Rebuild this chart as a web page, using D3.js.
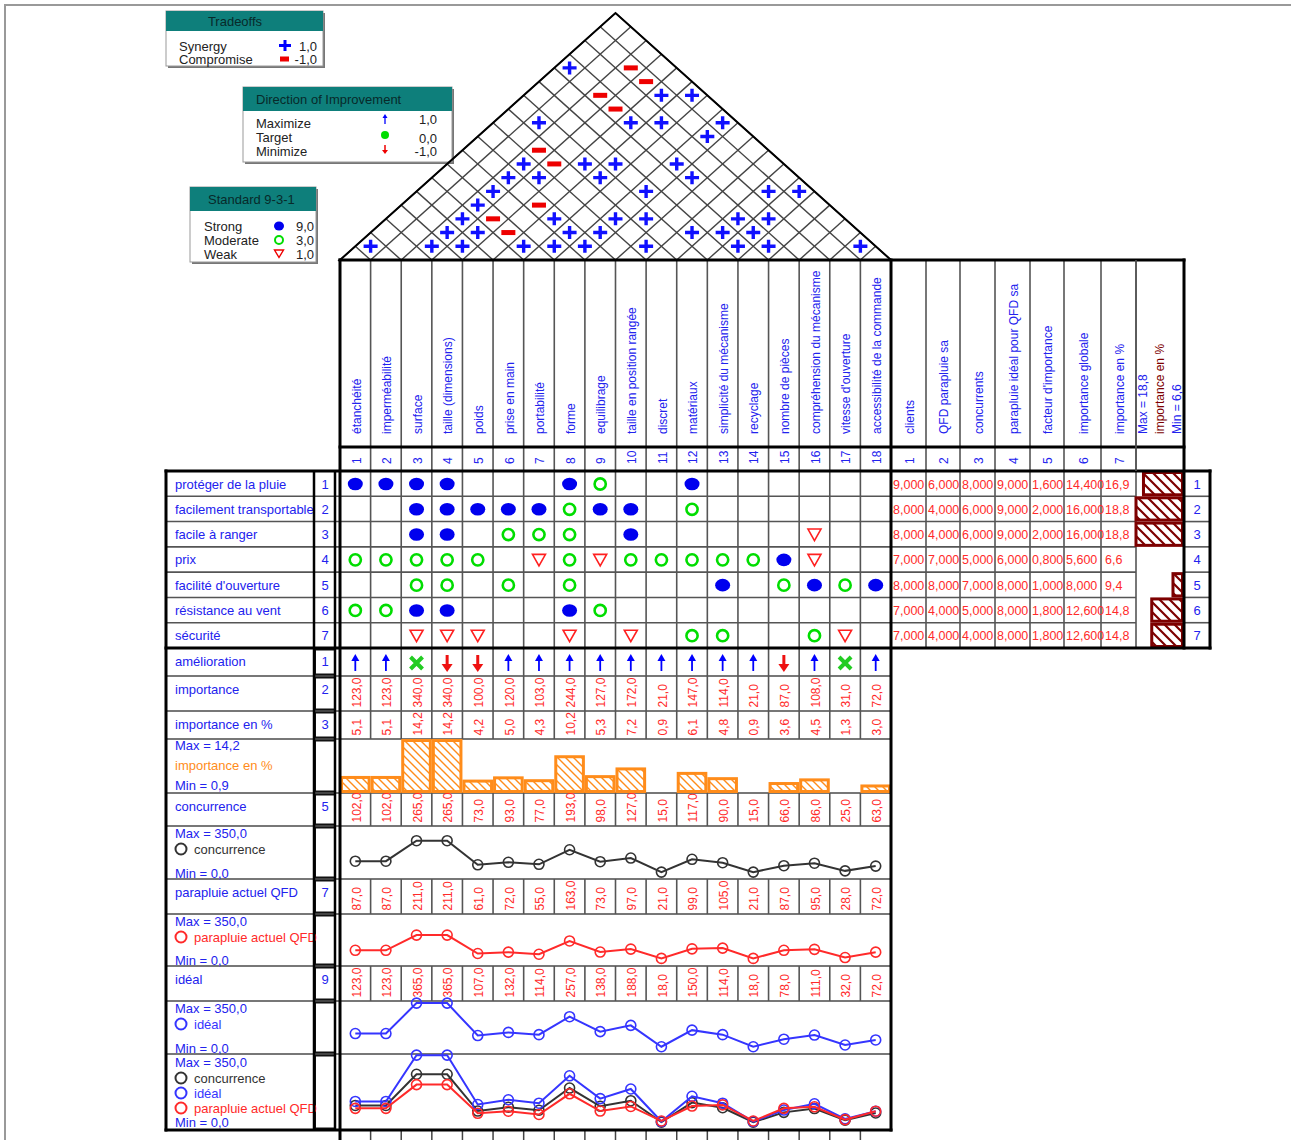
<!DOCTYPE html>
<html>
<head>
<meta charset="utf-8">
<script src="https://cdn.jsdelivr.net/npm/d3@7"></script>
<style>
body { margin:0; background:#fff; }
svg text { font-family:"Liberation Sans", Arial, sans-serif; }
</style>
</head>
<body>
<svg id="chart"></svg>
<script>
var techReqs = ["étanchéité","imperméabilité","surface","taille (dimensions)","poids","prise en main",
    "portabilité","forme","equilibrage","taille en position rangée","discret","matériaux",
    "simplicité du mécanisme","recyclage","nombre de pièces","compréhension du mécanisme",
    "vitesse d'ouverture","accessibilité de la commande"];
var custReqs = ["protéger de la pluie","facilement transportable","facile à ranger","prix",
    "facilité d'ouverture","résistance au vent","sécurité"];
var rightHeaders = ["clients","QFD parapluie sa","concurrents","parapluie idéal pour QFD sa",
    "facteur d'importance","importance globale","importance en %"];

var clients = [9,8,8,7,8,7,7];
var qfdSa = [6,4,4,7,8,4,4];
var concurrents = [8,6,6,5,7,5,4];
var idealQfd = [9,9,9,6,8,8,8];
var facteur = [1.6,2,2,0.8,1,1.8,1.8];
var importanceGlobale = [14.4,16,16,5.6,8,12.6,12.6];
var custPct = [16.9,18.8,18.8,6.6,9.4,14.8,14.8];

// 9 strong, 3 moderate, 1 weak
var relations = [
    [9,9,9,9,0,0,0,9,3,0,0,9,0,0,0,0,0,0],
    [0,0,9,9,9,9,9,3,9,9,0,3,0,0,0,0,0,0],
    [0,0,9,9,0,3,3,3,0,9,0,0,0,0,0,1,0,0],
    [3,3,3,3,3,0,1,3,1,3,3,3,3,3,9,1,0,0],
    [0,0,3,3,0,3,0,3,0,0,0,0,9,0,3,9,3,9],
    [3,3,9,9,0,0,0,9,3,0,0,0,0,0,0,0,0,0],
    [0,0,1,1,1,0,0,1,0,1,0,3,3,0,0,3,1,0]
];
var synergy = [[0,14],[4,16],[5,17],[1,11],[4,14],[5,15],[7,17],[7,16],[2,9],[4,11],[5,12],[7,14],
    [2,8],[3,9],[5,11],[8,14],[2,7],[7,12],[11,16],[12,17],[2,6],[2,5],[5,8],[7,10],[8,11],
    [11,14],[12,15],[2,4],[3,5],[6,8],[7,9],[10,12],[11,13],[12,14],[0,1],[2,3],[3,4],[5,6],
    [6,7],[7,8],[9,10],[12,13],[13,14],[16,17]];
var compromise = [[2,16],[3,16],[2,14],[3,14],[2,10],[3,10],[4,8],[3,6],[4,6]];

var improvement = [1,1,0,-1,-1,1,1,1,1,1,1,1,1,1,-1,1,0,1];
var importance = [123,123,340,340,100,120,103,244,127,172,21,147,114,21,87,108,31,72];
var importancePct = [5.1,5.1,14.2,14.2,4.2,5.0,4.3,10.2,5.3,7.2,0.9,6.1,4.8,0.9,3.6,4.5,1.3,3.0];
var concurrence = [102,102,265,265,73,93,77,193,98,127,15,117,90,15,66,86,25,63];
var parapluieQFD = [87,87,211,211,61,72,55,163,73,97,21,99,105,21,87,95,28,72];
var ideal = [123,123,365,365,107,132,114,257,138,188,18,150,114,18,78,111,32,72];

var fr = function(f){ return function(v){ return d3.format(f)(v).replace(".", ","); }; };
var fr1 = fr(".1f"), fr3 = fr(".3f");

var BLUE = "#2222ee", RED = "#ff2a2a", ORANGE = "#ff8c1a", DARKRED = "#7d0000", TEAL = "#0e7f7b";

var svg = d3.select("#chart").attr("width", 1291).attr("height", 1140);
var defs = svg.append("defs");

var hatch = function(id, color, size, width)
{
    var p = defs.append("pattern").attr("id", id).attr("patternUnits", "userSpaceOnUse")
        .attr("width", size).attr("height", size);
    p.append("rect").attr("width", size).attr("height", size).attr("fill", "#fff");
    p.append("path")
        .attr("d", "M0,0L"+size+","+size+"M"+(-size/2)+","+(size/2)+"L"+(size/2)+","+(size*1.5)
            +"M"+(size/2)+","+(-size/2)+"L"+(size*1.5)+","+(size/2))
        .attr("stroke", color).attr("stroke-width", width);
};
hatch("hOrange", ORANGE, 8, 1.4);
hatch("hRed", DARKRED, 10, 2.2);

// window frame
svg.append("path").attr("d", "M5,1140V5H1291").attr("fill", "none").attr("stroke", "#999").attr("stroke-width", 2);

var colX = d3.scaleBand().domain(d3.range(techReqs.length)).range([340, 891]);
var colW = colX.bandwidth();
var cx = function(i){ return colX(i) + colW/2; };
var rowY = d3.scaleBand().domain(d3.range(custReqs.length)).range([471, 648]);
var rightEdges = [891, 926, 960, 995, 1030, 1064, 1101, 1136, 1184];

/* ---------- legends ---------- */
var legendBox = function(x, y, w, h, hh, title, tx, anchor)
{
    var g = svg.append("g");
    g.append("rect").attr("x", x+2).attr("y", y+2).attr("width", w).attr("height", h).attr("fill", "#777");
    g.append("rect").attr("x", x).attr("y", y).attr("width", w).attr("height", h)
        .attr("fill", "#fff").attr("stroke", "#999");
    g.append("rect").attr("x", x).attr("y", y).attr("width", w).attr("height", hh).attr("fill", TEAL);
    g.append("text").text(title).attr("x", tx).attr("y", y+hh/2+4.5)
        .attr("text-anchor", anchor).attr("font-size", 13).attr("fill", "#082a2a");
    return g;
};
var legText = function(g, t, x, y, anchor, color)
{
    g.append("text").text(t).attr("x", x).attr("y", y).attr("text-anchor", anchor || "start")
        .attr("font-size", 13).attr("fill", color || "#222");
};

var lg1 = legendBox(166, 11, 157, 55, 20, "Tradeoffs", 235, "middle");
legText(lg1, "Synergy", 179, 51);
legText(lg1, "Compromise", 179, 64);
lg1.append("path").attr("d", "M279,45.5H291M285,40V51").attr("stroke", "#0000ff").attr("stroke-width", 3);
lg1.append("rect").attr("x", 280).attr("y", 56.5).attr("width", 9).attr("height", 5).attr("fill", "#ee0000");
legText(lg1, "1,0", 317, 51, "end");
legText(lg1, "-1,0", 317, 64, "end");

var lg2 = legendBox(243, 87, 209, 75, 24, "Direction of Improvement", 256, "start");
legText(lg2, "Maximize", 256, 128);
legText(lg2, "Target", 256, 142);
legText(lg2, "Minimize", 256, 156);
lg2.append("path").attr("d", "M385,124V117").attr("stroke", "#0000ff").attr("stroke-width", 1.3);
lg2.append("path").attr("d", "M382.5,118L385,114L387.5,118Z").attr("fill", "#0000ff");
lg2.append("circle").attr("cx", 385).attr("cy", 135).attr("r", 4).attr("fill", "#00dd00");
lg2.append("path").attr("d", "M385,145V151").attr("stroke", "#ee0000").attr("stroke-width", 1.5);
lg2.append("path").attr("d", "M382,150L385,154L388,150Z").attr("fill", "#ee0000");
legText(lg2, "1,0", 437, 124, "end");
legText(lg2, "0,0", 437, 143, "end");
legText(lg2, "-1,0", 437, 156, "end");

var lg3 = legendBox(190, 187, 126, 75, 24, "Standard 9-3-1", 208, "start");
legText(lg3, "Strong", 204, 231);
legText(lg3, "Moderate", 204, 245);
legText(lg3, "Weak", 204, 259);
lg3.append("ellipse").attr("cx", 279).attr("cy", 226).attr("rx", 5).attr("ry", 4.5).attr("fill", "#0000ee");
lg3.append("circle").attr("cx", 279).attr("cy", 240).attr("r", 4).attr("fill", "none")
    .attr("stroke", "#00dd00").attr("stroke-width", 2);
lg3.append("path").attr("d", "M274.5,250L283.5,250L279,257.5Z").attr("fill", "#fff")
    .attr("stroke", "#ee0000").attr("stroke-width", 1.4);
legText(lg3, "9,0", 314, 231, "end");
legText(lg3, "3,0", 314, 245, "end");
legText(lg3, "1,0", 314, 259, "end");

/* ---------- roof ---------- */
var roofBase = 260, roofTop = 13;
var n = techReqs.length;
var slope = (roofBase - roofTop) / (n/2 * colW);
var roof = svg.append("g");
d3.range(n+1).forEach(function(b)
{
    var X = 340 + b*colW;
    var tR = (n-b)*colW/2, tL = b*colW/2;
    roof.append("line").attr("x1", X).attr("y1", roofBase).attr("x2", X+tR).attr("y2", roofBase - tR*slope)
        .attr("stroke", "#444").attr("stroke-width", 1.4);
    roof.append("line").attr("x1", X).attr("y1", roofBase).attr("x2", X-tL).attr("y2", roofBase - tL*slope)
        .attr("stroke", "#444").attr("stroke-width", 1.4);
});
roof.append("path").attr("d", "M340,"+roofBase+"L"+(340+n/2*colW)+","+roofTop+"L891,"+roofBase+"Z")
    .attr("fill", "none").attr("stroke", "#000").attr("stroke-width", 2);
var roofPos = function(p){ return [340 + (p[0]+p[1]+1)*colW/2, roofBase - (p[1]-p[0])*colW/2*slope]; };
roof.selectAll(".syn").data(synergy).enter().append("path")
    .attr("d", function(p){ var c = roofPos(p); return "M"+(c[0]-7)+","+c[1]+"H"+(c[0]+7)+"M"+c[0]+","+(c[1]-6.5)+"V"+(c[1]+6.5); })
    .attr("stroke", "#1010ff").attr("stroke-width", 3.4);
roof.selectAll(".comp").data(compromise).enter().append("rect")
    .attr("x", function(p){ return roofPos(p)[0]-7; })
    .attr("y", function(p){ return roofPos(p)[1]-2.5; })
    .attr("width", 14).attr("height", 5).attr("fill", "#ee0000");

/* ---------- grid lines ---------- */
var grid = svg.append("g").attr("stroke", "#555").attr("stroke-width", 1.6);
d3.range(1, n).forEach(function(i)
{
    grid.append("line").attr("x1", colX(i)).attr("x2", colX(i)).attr("y1", 260).attr("y2", 648);
});
rightEdges.slice(1, -1).forEach(function(e)
{
    grid.append("line").attr("x1", e).attr("x2", e).attr("y1", 260).attr("y2", 648);
});
d3.range(1, custReqs.length).forEach(function(r)
{
    grid.append("line").attr("x1", 166).attr("x2", 1136).attr("y1", rowY(r)).attr("y2", rowY(r));
    grid.append("line").attr("x1", 1184).attr("x2", 1210).attr("y1", rowY(r)).attr("y2", rowY(r));
});

/* ---------- headers ---------- */
var rotText = function(t, x, y, color, size)
{
    svg.append("text").text(t).attr("transform", "translate("+x+","+y+") rotate(-90)")
        .attr("dy", "0.35em").attr("font-size", size).attr("fill", color);
};
techReqs.forEach(function(t, i){ rotText(t, cx(i)+1, 434, BLUE, 12); });
techReqs.forEach(function(t, i){ rotText(String(i+1), cx(i)+1, 464, BLUE, 12); });
rightHeaders.forEach(function(t, i)
{
    var c = (rightEdges[i] + rightEdges[i+1])/2;
    rotText(t, c+1, 434, BLUE, 12);
    rotText(String(i+1), c+1, 464, BLUE, 12);
});
rotText("Max = 18,8", 1143, 434, BLUE, 12);
rotText("importance en %", 1160, 434, DARKRED, 12);
rotText("Min = 6,6", 1177, 434, BLUE, 12);

/* ---------- relationship matrix ---------- */
var labelText = function(t, y, color)
{
    svg.append("text").text(t).attr("x", 175).attr("y", y).attr("font-size", 13)
        .attr("fill", color || BLUE);
};
custReqs.forEach(function(t, r)
{
    var yc = rowY(r) + 13;
    labelText(t, yc+4.5);
    svg.append("text").text(r+1).attr("x", 325).attr("y", yc+4.5).attr("text-anchor", "middle")
        .attr("font-size", 13).attr("fill", BLUE);
    svg.append("text").text(r+1).attr("x", 1197).attr("y", yc+4.5).attr("text-anchor", "middle")
        .attr("font-size", 13).attr("fill", BLUE);
});

var cells = [];
relations.forEach(function(row, r){ row.forEach(function(v, c){ if(v) cells.push({r:r, c:c, v:v}); }); });
var sym = svg.append("g").selectAll("g").data(cells).enter().append("g")
    .attr("transform", function(d){ return "translate("+cx(d.c)+","+(rowY(d.r)+13)+")"; });
sym.filter(function(d){ return d.v == 9; }).append("ellipse").attr("rx", 7.5).attr("ry", 6.3).attr("fill", "#0000ee");
sym.filter(function(d){ return d.v == 3; }).append("circle").attr("r", 5.6).attr("fill", "none")
    .attr("stroke", "#00dd00").attr("stroke-width", 2.6);
sym.filter(function(d){ return d.v == 1; }).append("path").attr("d", "M-6.5,-5.5L6.5,-5.5L0,6Z")
    .attr("fill", "#fff").attr("stroke", "#ff2020").attr("stroke-width", 1.6);

/* ---------- right table ---------- */
var rightCols = [clients, qfdSa, concurrents, idealQfd, facteur, importanceGlobale];
rightCols.forEach(function(col, k)
{
    col.forEach(function(v, r)
    {
        svg.append("text").text(fr3(v)).attr("x", rightEdges[k]+2).attr("y", rowY(r)+17.5)
            .attr("font-size", 12.5).attr("fill", RED);
    });
});
custPct.forEach(function(v, r)
{
    svg.append("text").text(fr1(v)).attr("x", rightEdges[6]+4).attr("y", rowY(r)+17.5)
        .attr("font-size", 12.5).attr("fill", RED);
});
var pctW = d3.scaleLinear().domain([d3.min(custPct), d3.max(custPct)]).range([0, 1184-1136]);
var pctBars = custPct.map(function(v, r){ return {v:v, r:r}; }).filter(function(d){ return pctW(d.v) > 0.5; });
svg.append("g").selectAll("rect").data(pctBars).enter().append("rect")
    .attr("x", function(d){ return 1184 - pctW(d.v); })
    .attr("y", function(d){ return rowY(d.r)+1.5; })
    .attr("width", function(d){ return pctW(d.v) - 1.5; })
    .attr("height", rowY.bandwidth()-3)
    .attr("fill", "url(#hRed)").attr("stroke", DARKRED).attr("stroke-width", 3);

/* ---------- lower section ---------- */
var lowerRows = [
    {key:"amel", top:648, bot:676, label:"amélioration", num:"1"},
    {key:"imp", top:676, bot:711, label:"importance", num:"2", values:importance},
    {key:"pct", top:711, bot:739, label:"importance en %", num:"3", values:importancePct},
    {key:"bar", top:739, bot:793},
    {key:"conc", top:793, bot:826, label:"concurrence", num:"5", values:concurrence},
    {key:"concLine", top:826, bot:879},
    {key:"qfd", top:879, bot:914, label:"parapluie actuel QFD", num:"7", values:parapluieQFD},
    {key:"qfdLine", top:914, bot:966},
    {key:"ideal", top:966, bot:1001, label:"idéal", num:"9", values:ideal},
    {key:"idealLine", top:1001, bot:1054},
    {key:"all", top:1054, bot:1130}
];
lowerRows.forEach(function(row)
{
    svg.append("line").attr("x1", 166).attr("x2", 891).attr("y1", row.bot).attr("y2", row.bot)
        .attr("stroke", "#777").attr("stroke-width", 2);
    svg.append("rect").attr("x", 315).attr("y", row.top+1.5).attr("width", 20).attr("height", row.bot-row.top-3)
        .attr("fill", "none").attr("stroke", "#111").attr("stroke-width", 2);
    if(row.label)
    {
        labelText(row.label, row.top+17.5);
        svg.append("text").text(row.num).attr("x", 325).attr("y", row.top+17.5).attr("text-anchor", "middle")
            .attr("font-size", 13).attr("fill", BLUE);
        d3.range(1, n).forEach(function(i)
        {
            svg.append("line").attr("x1", colX(i)).attr("x2", colX(i)).attr("y1", row.top).attr("y2", row.bot)
                .attr("stroke", "#555").attr("stroke-width", 1.6);
        });
    }
    if(row.values)
    {
        row.values.forEach(function(v, i){ rotText(fr1(v), cx(i)+1, row.bot-3.5, RED, 12); });
    }
});
d3.range(1, n).forEach(function(i)
{
    svg.append("line").attr("x1", colX(i)).attr("x2", colX(i)).attr("y1", 1130).attr("y2", 1140)
        .attr("stroke", "#444").attr("stroke-width", 1.5);
});

// improvement arrows
var amel = svg.append("g").selectAll("g").data(improvement).enter().append("g")
    .attr("transform", function(d, i){ return "translate("+cx(i)+",663)"; });
amel.filter(function(d){ return d == 1; }).each(function()
{
    var g = d3.select(this);
    g.append("path").attr("d", "M0,8V-4").attr("stroke", "#0000ff").attr("stroke-width", 1.8);
    g.append("path").attr("d", "M-4,-2L0,-9L4,-2Z").attr("fill", "#0000ff");
});
amel.filter(function(d){ return d == -1; }).each(function()
{
    var g = d3.select(this);
    g.append("path").attr("d", "M0,-8V3").attr("stroke", "#ee1111").attr("stroke-width", 3);
    g.append("path").attr("d", "M-5.5,1L0,9L5.5,1Z").attr("fill", "#ee1111");
});
amel.filter(function(d){ return d == 0; }).append("path").attr("d", "M-6,-6L6,6M6,-6L-6,6")
    .attr("stroke", "#22cc22").attr("stroke-width", 4);

// importance % bars
var barY = d3.scaleLinear().domain([d3.min(importancePct), d3.max(importancePct)]).range([793, 739]);
svg.append("g").selectAll("rect").data(importancePct).enter().append("rect")
    .attr("x", function(v, i){ return colX(i)+1.5; })
    .attr("y", function(v){ return barY(v)+1.5; })
    .attr("width", colW-3)
    .attr("height", function(v){ return Math.max(0, 793 - barY(v) - 3); })
    .attr("fill", "url(#hOrange)").attr("stroke", ORANGE).attr("stroke-width", 3);
labelText("Max = 14,2", 750, BLUE);
labelText("importance en %", 770, ORANGE);
labelText("Min = 0,9", 790, BLUE);

// line charts
var drawLine = function(values, top, bot, color)
{
    var yS = d3.scaleLinear().domain([0, 350]).range([bot-5, top+4]);
    var line = d3.line().x(function(v, i){ return cx(i); }).y(function(v){ return yS(v); });
    var g = svg.append("g");
    g.append("path").datum(values).attr("d", line).attr("fill", "none")
        .attr("stroke", color).attr("stroke-width", 2);
    g.selectAll("circle").data(values).enter().append("circle")
        .attr("cx", function(v, i){ return cx(i); })
        .attr("cy", function(v){ return yS(v); })
        .attr("r", 5).attr("fill", "none").attr("stroke", color).attr("stroke-width", 1.6);
};
var legendEntry = function(t, yc, color)
{
    svg.append("circle").attr("cx", 181).attr("cy", yc).attr("r", 5.5).attr("fill", "none")
        .attr("stroke", color).attr("stroke-width", 2);
    svg.append("text").text(t).attr("x", 194).attr("y", yc+4.5).attr("font-size", 13).attr("fill", color);
};
var GREY = "#333", LRED = "#ff2a2a", LBLUE = "#3535ff";

drawLine(concurrence, 826, 879, GREY);
labelText("Max = 350,0", 838); legendEntry("concurrence", 849, GREY); labelText("Min = 0,0", 878);

drawLine(parapluieQFD, 914, 966, LRED);
labelText("Max = 350,0", 926); legendEntry("parapluie actuel QFD", 937, LRED); labelText("Min = 0,0", 965);

drawLine(ideal, 1001, 1054, LBLUE);
labelText("Max = 350,0", 1013); legendEntry("idéal", 1024, LBLUE); labelText("Min = 0,0", 1053);

drawLine(concurrence, 1054, 1130, GREY);
drawLine(ideal, 1054, 1130, LBLUE);
drawLine(parapluieQFD, 1054, 1130, LRED);
labelText("Max = 350,0", 1067);
legendEntry("concurrence", 1078, GREY);
legendEntry("idéal", 1093, LBLUE);
legendEntry("parapluie actuel QFD", 1108, LRED);
labelText("Min = 0,0", 1127);

/* ---------- heavy borders ---------- */
var thick = [
    [340,260,1184,260],[340,260,340,1140],[891,260,891,1130],[1184,260,1184,648],
    [340,447,1184,447],[166,471,1210,471],[166,648,1210,648],[166,471,166,1130],
    [166,1130,891,1130],[1210,471,1210,648]
];
thick.forEach(function(l)
{
    svg.append("line").attr("x1", l[0]).attr("y1", l[1]).attr("x2", l[2]).attr("y2", l[3])
        .attr("stroke", "#000").attr("stroke-width", 3).attr("stroke-linecap", "square");
});
[[314,471,314,1130],[335,471,335,1130]].forEach(function(l)
{
    svg.append("line").attr("x1", l[0]).attr("y1", l[1]).attr("x2", l[2]).attr("y2", l[3])
        .attr("stroke", "#000").attr("stroke-width", 2.5);
});
svg.append("line").attr("x1", 1136).attr("x2", 1136).attr("y1", 260).attr("y2", 471)
    .attr("stroke", "#555").attr("stroke-width", 1.6);
</script>
</body>
</html>
